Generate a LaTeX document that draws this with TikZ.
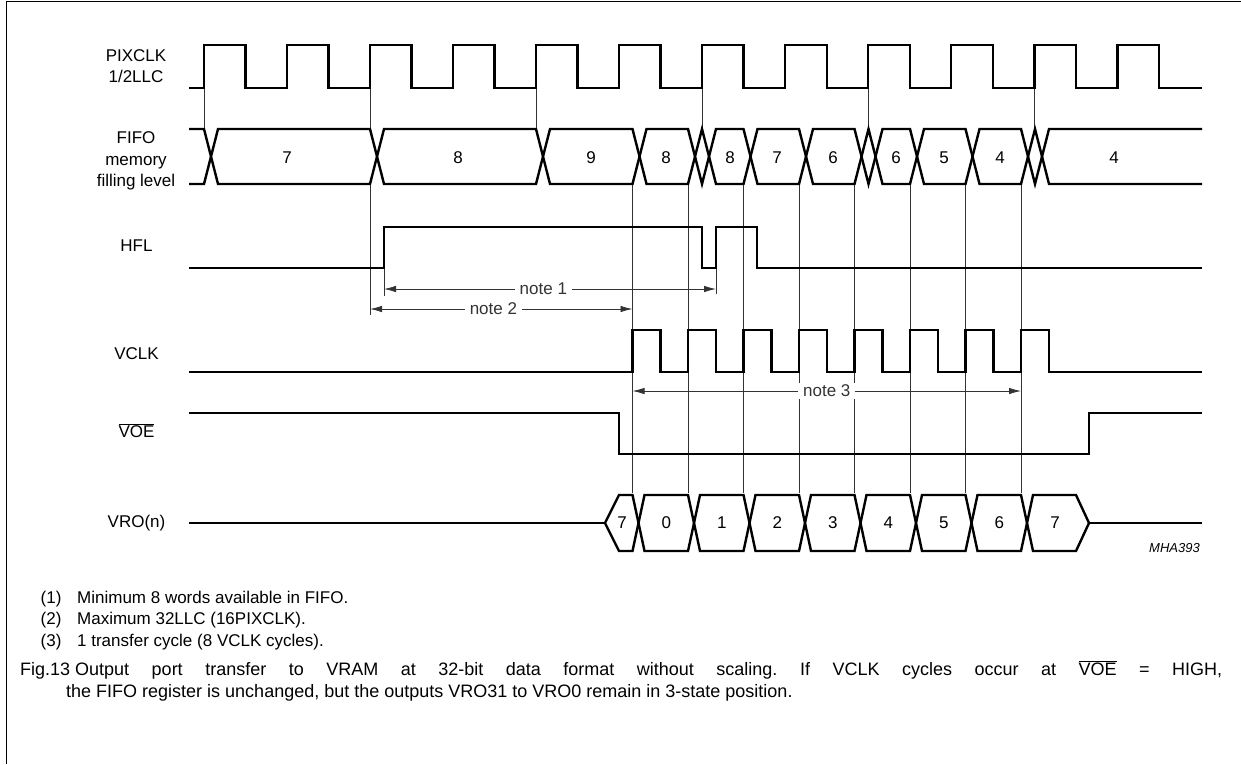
\documentclass[tikz,border=0pt]{standalone}
\usepackage{fontspec}
\setmainfont{Liberation Sans}
\usetikzlibrary{arrows.meta}
\frenchspacing

\begin{document}
\begin{tikzpicture}[x=1pt, y=-1pt, >={Latex[length=12pt,width=6.5pt]},
  sig/.style={line width=2.4pt},
  guide/.style={line width=0.8pt, black!80},
  lbl/.style={font=\fontsize{17}{20}\selectfont, inner sep=0pt, anchor=base},
  notelbl/.style={font=\fontsize{17}{20}\selectfont, fill=white, inner xsep=5pt, inner ysep=2pt},
  foot/.style={font=\fontsize{17}{20}\selectfont, inner sep=0pt, anchor=base west},
  capt/.style={font=\fontsize{18}{22}\selectfont, inner sep=0pt, anchor=base west}]
  \useasboundingbox (0,0) rectangle (1241,764);
  % Frame
  \draw[line width=1pt] (1241,1) -- (6.5,1) -- (6.5,764);

  % Signal names
  \node[lbl] (pixA) at (136,61) {PIXCLK};
  \node[lbl] (pixB) at (136,82) {1/2LLC};
  \node[lbl] (fifoA) at (136,143.5) {FIFO};
  \node[lbl] (fifoB) at (136,165) {memory};
  \node[lbl] (fifoC) at (136,186) {filling level};
  \node[lbl] (hflLbl) at (136.5,251.5) {HFL};
  \node[lbl] (vclkLbl) at (136.5,359.5) {VCLK};
  \node[lbl] (voeLbl) at (136.5,437) {$\overline{\mbox{VOE}}$};
  \node[lbl] (vroLbl) at (136.5,527.5) {VRO(n)};

  % Guide lines
  \foreach \k in {0,2,...,10}
    \draw[guide] ({204+83.03*\k},88) -- ++(0,41);
  \draw[guide] (370,184) -- (370,315);
  \foreach \e in {632.5,688,743.5,799,854.5,910,965.5,1021}
    \draw[guide] (\e,184) -- (\e,493);
  \draw[guide] (384,268) -- (384,296);
  \draw[guide] (716,268) -- (716,294);

  % PIXCLK
  \draw[sig] (189,88) foreach \k in {0,...,11} {
    -- ({204+83.03*\k},88) -- ({204+83.03*\k},45)
    -- ({245.5+83.03*\k},45) -- ({245.5+83.03*\k},88) } -- (1202,88);

  % FIFO filling level
  \draw[sig] (189,129) -- (204,129) -- (211,156.5) -- (204,184) -- (189,184);
  \foreach \a/\b/\m/\v in {218/370/287/7, 384/536/458/8, 550/632.5/591/9,
      646.5/688/666/8, 716/743.5/730/8, 757.5/799/777/7, 813/854.5/833/6,
      882.5/910/896/6, 924/965.5/944/5, 979.5/1021/1000/4}
    \draw[sig] ({\a-7},156.5) -- (\a,129) -- (\b,129) -- ({\b+7},156.5)
      -- (\b,184) -- (\a,184) -- cycle
      node[lbl] (fifo\a) at (\m,163.5) {\v};
  \foreach \t in {702,868.5,1035}
    \draw[sig] ({\t-7},156.5) -- (\t,129) -- ({\t+7},156.5) -- (\t,184) -- cycle;
  \draw[sig] (1202,129) -- (1049,129) -- (1042,156.5) -- (1049,184) -- (1202,184);
  \node[lbl] (fifoLast) at (1114,163.5) {4};

  % HFL
  \draw[sig] (189,268) -- (384,268) -- (384,227) -- (702,227) -- (702,268)
    -- (716,268) -- (716,227) -- (757,227) -- (757,268) -- (1202,268);

  % Notes 1 and 2
  \coordinate (n1l) at (384,289);
  \coordinate (n1r) at (716,289);
  \coordinate (n2l) at (370,309);
  \coordinate (n2r) at (632.5,309);
  \draw[guide, <->] (n1l) -- (n1r) node[notelbl, pos=0.48] (note1) {note 1};
  \draw[guide, <->] (n2l) -- (n2r) node[notelbl, pos=0.47] (note2) {note 2};

  % VCLK
  \draw[sig] (189,372) foreach \e in {632.5,688,743.5,799,854.5,910,965.5,1021} {
    -- (\e,372) -- (\e,330) -- ({\e+28},330) -- ({\e+28},372) } -- (1202,372);

  % Note 3
  \coordinate (n3l) at (632.5,391);
  \coordinate (n3r) at (1021,391);
  \draw[guide, <->] (n3l) -- (n3r) node[notelbl, midway] (note3) {note 3};

  % VOE
  \draw[sig] (189,413) -- (619,413) -- (619,454) -- (1089,454) -- (1089,413) -- (1202,413);

  % VRO(n)
  \draw[sig] (189,523) -- (605,523);
  \draw[sig] (605,523) -- (619,495) -- (632.5,495) -- (638.5,523) -- (632.5,551)
    -- (619,551) -- cycle;
  \node[lbl] (vro7a) at (622,528.8) {7};
  \foreach \a/\b/\v in {644.5/688/0, 700/743.5/1, 755.5/799/2, 811/854.5/3,
      866.5/910/4, 922/965.5/5, 977.5/1021/6}
    \draw[sig] ({\a-6},523) -- (\a,495) -- (\b,495) -- ({\b+6},523)
      -- (\b,551) -- (\a,551) -- cycle
      node[lbl] (vro\v) at ({(\a+\b)/2},528.8) {\v};
  \draw[sig] (1027,523) -- (1033,495) -- (1076,495) -- (1089,523) -- (1076,551)
    -- (1033,551) -- cycle;
  \node[lbl] (vro7b) at (1055,528.8) {7};
  \draw[sig] (1089,523) -- (1202,523);
  \node[font=\fontsize{13}{15}\selectfont\itshape, inner sep=0pt, anchor=base east]
    (code) at (1200,552.7) {MHA393};

  % Footnotes
  \node[foot] (fn1) at (40.5,603) {\makebox[36.5pt][l]{(1)}Minimum 8 words available in FIFO.};
  \node[foot] (fn2) at (40.5,624) {\makebox[36.5pt][l]{(2)}Maximum 32LLC (16PIXCLK).};
  \node[foot] (fn3) at (40.5,646) {\makebox[36.5pt][l]{(3)}1 transfer cycle (8 VCLK cycles).};

  % Caption (first line justified)
  \node[capt] (figno) at (20,675) {Fig.13};
  \node[capt] (capA) at (75,675) {\hbox to 1147pt{Output port transfer to VRAM at 32-bit data format without scaling. If VCLK cycles occur at $\overline{\mbox{VOE}}$ = HIGH,}};
  \node[capt] (capB) at (66,697) {the FIFO register is unchanged, but the outputs VRO31 to VRO0 remain in 3-state position.};
\end{tikzpicture}
\end{document}
